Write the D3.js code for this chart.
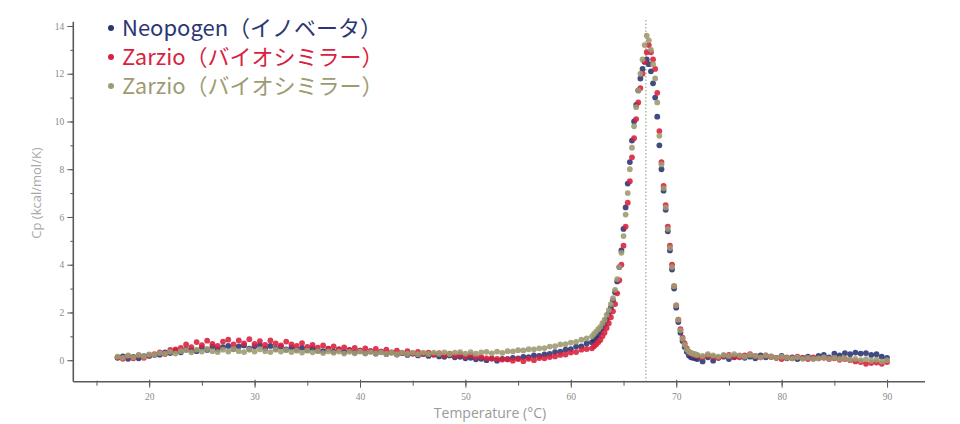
<!DOCTYPE html>
<html><head><meta charset="utf-8">
<script src="https://cdn.jsdelivr.net/npm/d3@7"></script>
<style>html,body{margin:0;padding:0;background:#fff;}svg{display:block;}</style>
</head><body>
<svg id="chart" width="960" height="424"></svg>
<script>
// ---- data ----
const seriesNames = ["Neopogen（イノベータ）", "Zarzio（バイオシミラー）", "Zarzio（バイオシミラー）"];
const seriesColors = ["#2b3673", "#d9223f", "#9e9b72"];
// temperature grid (°C): low range, peak range, high range
const tempsLow = d3.range(17, 61.75, 0.5);      // 17 .. 61.5
const tempsPeak = d3.range(62, 71.9, 0.2);      // 62 .. 71.8
const tempsHigh = d3.range(72, 90.25, 0.5);     // 72 .. 90
const xTicks = [20, 30, 40, 50, 60, 70, 80, 90];
const yTicks = [0, 2, 4, 6, 8, 10, 12, 14];
const meltTemp = 67.12;

const navyLow = [0.1,0.16,0.06,0.14,0.08,0.17,0.18,0.22,0.23,0.33,0.3,0.4,0.33,0.45,0.42,0.38,0.53,0.43,0.57,0.46,0.55,0.6,0.47,0.58,0.62,0.48,0.58,0.64,0.5,0.6,0.48,0.57,0.45,0.54,0.44,0.52,0.42,0.5,0.4,0.38,0.47,0.36,0.44,0.34,0.42,0.32,0.4,0.3,0.38,0.28,0.36,0.26,0.32,0.24,0.3,0.22,0.28,0.2,0.26,0.18,0.24,0.16,0.14,0.2,0.12,0.14,0.08,0.1,0.04,0.06,0.0,0.07,-0.02,0.06,0.04,0.1,0.08,0.14,0.13,0.2,0.18,0.24,0.26,0.34,0.36,0.44,0.46,0.57,0.58,0.7];
const navyPeak = [0.75,0.85,0.95,1.05,1.2,1.35,1.5,1.7,1.95,2.2,2.5,2.85,3.3,3.9,4.6,5.5,6.4,7.4,8.3,9.2,10.0,10.7,11.3,11.8,12.2,12.5,12.6,12.4,12.1,11.6,11.0,10.2,9.0,8.0,7.1,6.3,5.4,4.6,3.8,3.0,2.2,1.6,1.15,0.8,0.55,0.35,0.2,0.12,0.1,0.08];
const navyHigh = [0.05,-0.05,0.12,-0.02,0.1,0.15,0.05,0.12,0.18,0.1,0.15,0.08,0.2,0.12,0.15,0.1,0.18,0.08,0.12,0.05,0.1,0.15,0.08,0.18,0.22,0.12,0.28,0.2,0.3,0.25,0.32,0.28,0.3,0.22,0.25,0.15,0.1];

const redLow = [0.12,0.06,0.17,0.08,0.2,0.1,0.22,0.25,0.33,0.26,0.43,0.45,0.52,0.66,0.55,0.76,0.63,0.82,0.68,0.6,0.78,0.86,0.66,0.83,0.7,0.88,0.68,0.8,0.64,0.83,0.7,0.62,0.78,0.66,0.6,0.72,0.56,0.64,0.53,0.62,0.48,0.58,0.46,0.54,0.43,0.52,0.4,0.5,0.38,0.47,0.36,0.44,0.33,0.4,0.3,0.38,0.28,0.35,0.26,0.32,0.23,0.3,0.2,0.27,0.18,0.24,0.16,0.22,0.13,0.14,0.08,0.07,0.06,0.03,0.04,-0.02,0.05,-0.04,0.06,0.0,0.09,0.08,0.13,0.16,0.22,0.24,0.32,0.34,0.44,0.47];
const redPeak = [0.5,0.58,0.66,0.75,0.85,1.0,1.15,1.35,1.55,1.8,2.05,2.35,2.8,3.35,4.0,4.8,5.6,6.6,7.5,8.5,9.3,10.1,10.8,11.4,12.0,12.5,12.9,13.2,12.9,12.6,12.2,11.2,9.6,8.3,7.3,6.5,5.6,4.8,4.0,3.1,2.3,1.7,1.3,0.95,0.7,0.5,0.35,0.3,0.22,0.2];
const redHigh = [0.18,0.12,0.2,0.15,0.1,0.18,0.22,0.15,0.12,0.2,0.25,0.18,0.12,0.2,0.15,0.1,0.05,0.12,0.08,0.15,0.1,0.05,0.12,0.08,0.1,0.05,0.08,0.02,0.05,0.0,-0.05,-0.08,-0.15,-0.12,-0.1,-0.15,-0.08];

const oliveLow = [0.15,0.1,0.2,0.12,0.22,0.15,0.24,0.23,0.3,0.28,0.35,0.28,0.38,0.42,0.33,0.44,0.36,0.47,0.38,0.34,0.44,0.36,0.46,0.38,0.34,0.44,0.36,0.46,0.38,0.34,0.44,0.36,0.42,0.34,0.4,0.32,0.4,0.33,0.38,0.3,0.37,0.31,0.36,0.28,0.35,0.29,0.36,0.28,0.34,0.27,0.33,0.26,0.32,0.25,0.32,0.26,0.32,0.25,0.32,0.26,0.32,0.27,0.33,0.26,0.32,0.34,0.28,0.34,0.27,0.33,0.35,0.29,0.36,0.31,0.38,0.37,0.42,0.41,0.46,0.45,0.5,0.51,0.57,0.59,0.66,0.67,0.74,0.77,0.86,0.91];
const olivePeak = [1.0,1.1,1.2,1.3,1.4,1.55,1.7,1.9,2.1,2.35,2.6,2.95,3.4,3.9,4.5,5.2,6.1,7.0,8.0,8.9,9.8,10.6,11.3,12.0,12.6,13.2,13.6,13.4,13.0,12.4,11.8,10.8,9.4,8.2,7.2,6.4,5.5,4.7,3.9,3.1,2.3,1.7,1.25,0.9,0.65,0.45,0.35,0.3,0.28,0.25];
const oliveHigh = [0.22,0.18,0.25,0.2,0.15,0.22,0.18,0.25,0.2,0.15,0.22,0.18,0.12,0.2,0.16,0.1,0.15,0.1,0.08,0.12,0.06,0.1,0.05,0.08,0.12,0.06,0.1,0.05,0.08,0.02,0.06,0.0,0.04,-0.02,0.02,-0.05,0.0];

// ---- build ----
const temps = tempsLow.concat(tempsPeak, tempsHigh);
const seriesValues = [
  navyLow.concat(navyPeak, navyHigh),
  redLow.concat(redPeak, redHigh),
  oliveLow.concat(olivePeak, oliveHigh)
];

const svg = d3.select("#chart");
const x = d3.scaleLinear().domain([12.8, 93.6]).range([73.3, 925]);
const y = d3.scaleLinear().domain([-0.9, 14.18]).range([381.7, 21.7]);

const axisColor = "#5a5a5a";
const tickTextColor = "#8a8a8a";

const defs = svg.append("defs");
defs.append("filter").attr("id", "soft")
  .append("feGaussianBlur").attr("stdDeviation", 0.45);

// vertical dotted melt line
svg.append("line")
  .attr("x1", x(meltTemp)).attr("x2", x(meltTemp))
  .attr("y1", 20).attr("y2", y.range()[0])
  .attr("stroke", "#8fb08c").attr("stroke-width", 1.2)
  .attr("stroke-dasharray", "1.5,2");

// points
const pointsG = svg.append("g").attr("filter", "url(#soft)");
seriesValues.forEach((vals, si) => {
  pointsG.append("g").selectAll("circle")
    .data(vals.map((v, i) => [temps[i], v]))
    .join("circle")
    .attr("cx", d => x(d[0]))
    .attr("cy", d => y(d[1]))
    .attr("r", 2.9)
    .attr("fill", seriesColors[si])
    .attr("fill-opacity", 0.9);
});

// x axis
const xAxisG = svg.append("g").attr("transform", `translate(0,${y.range()[0]})`);
xAxisG.append("line").attr("x1", x.range()[0]).attr("x2", x.range()[1])
  .attr("stroke", axisColor).attr("stroke-width", 1.6);
xAxisG.append("g").call(d3.axisBottom(x).tickValues(d3.range(15, 91, 5)).tickSize(4).tickFormat(""))
  .call(g => g.select(".domain").remove())
  .call(g => g.selectAll("line").attr("stroke", axisColor).attr("y1", -1));
xAxisG.append("g").call(d3.axisBottom(x).tickValues(xTicks).tickSize(6).tickPadding(6).tickFormat(d3.format("d")))
  .call(g => g.select(".domain").remove())
  .call(g => g.selectAll("line").attr("stroke", axisColor).attr("y1", -2))
  .call(g => g.selectAll("text").attr("fill", tickTextColor).attr("font-size", 9.5)
    .attr("font-family", "'Liberation Serif', serif"));

// y axis
const yAxisG = svg.append("g").attr("transform", `translate(${x.range()[0]},0)`);
yAxisG.append("line").attr("y1", y.range()[0]).attr("y2", y.range()[1])
  .attr("stroke", axisColor).attr("stroke-width", 1.6);
yAxisG.append("g").call(d3.axisLeft(y).tickValues(d3.range(-0, 15, 1)).tickSize(3).tickFormat(""))
  .call(g => g.select(".domain").remove())
  .call(g => g.selectAll("line").attr("stroke", axisColor));
yAxisG.append("g").call(d3.axisLeft(y).tickValues(yTicks).tickSize(6).tickPadding(3).tickFormat(d3.format("d")))
  .call(g => g.select(".domain").remove())
  .call(g => g.selectAll("line").attr("stroke", axisColor))
  .call(g => g.selectAll("text").attr("fill", tickTextColor).attr("font-size", 9.5)
    .attr("font-family", "'Liberation Serif', serif"));

// axis titles
svg.append("text").attr("x", 490).attr("y", 418).attr("text-anchor", "middle")
  .attr("fill", "#9a9a9a").attr("font-size", 14).attr("font-family", "'Open Sans', sans-serif")
  .text("Temperature (°C)");
svg.append("text").attr("transform", "translate(41,193) rotate(-90)").attr("text-anchor", "middle")
  .attr("fill", "#a8a8a8").attr("font-size", 13).attr("font-family", "'Open Sans', sans-serif")
  .text("Cp (kcal/mol/K)");

// legend
const legendG = svg.append("g");
seriesNames.forEach((name, i) => {
  const cy = 28 + i * 29;
  legendG.append("circle").attr("cx", 111).attr("cy", cy).attr("r", 3).attr("fill", seriesColors[i]);
  legendG.append("text").attr("x", 122).attr("y", cy + 8)
    .attr("fill", seriesColors[i]).attr("font-size", 22)
    .attr("font-family", "'Noto Sans CJK JP', 'Noto Sans', sans-serif")
    .text(name);
});
</script>
</body></html>
